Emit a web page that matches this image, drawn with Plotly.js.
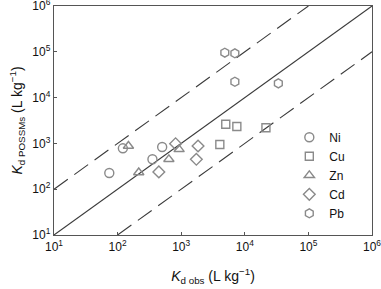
<!DOCTYPE html>
<html>
<head>
<meta charset="utf-8">
<script src="https://cdn.plot.ly/plotly-3.0.1.min.js"></script>
<style>html,body{margin:0;padding:0;background:#fff;}#chart{width:381px;height:289px;}</style>
</head>
<body>
<div id="chart"></div>
<script>
// Observed Kd (x) and POSSMs-predicted Kd (y), L/kg
const niObs = [74, 121, 353, 502];
const niPred = [226, 781, 450, 834];
const cuObs = [4050, 5020, 7500, 21500];
const cuPred = [946, 2610, 2340, 2200];
const znObs = [148, 215, 640, 927];
const znPred = [877, 232, 450, 743];
const cdObs = [445, 816, 1840, 1730];
const cdPred = [238, 984, 877, 450];
const pbObs = [4850, 6980, 6980, 33700];
const pbPred = [95500, 92700, 22200, 20500];

// reference lines: 1:1 and ±1 order of magnitude
const oneToOneX = [10, 1e6];
const oneToOneY = [10, 1e6];
const upperX = [10, 1e5];
const upperY = [100, 1e6];
const lowerX = [100, 1e6];
const lowerY = [10, 1e5];

const tickVals = [10, 100, 1000, 10000, 100000, 1000000];
const tickText = ['10<sup>1</sup>','10<sup>2</sup>','10<sup>3</sup>','10<sup>4</sup>','10<sup>5</sup>','10<sup>6</sup>'];

const seriesNames = ['Ni','Cu','Zn','Cd','Pb'];
const seriesX = [niObs, cuObs, znObs, cdObs, pbObs];
const seriesY = [niPred, cuPred, znPred, cdPred, pbPred];
const symbols = ['circle-open','square-open','triangle-up-open','diamond-open','hexagon-open'];
const sizes = [9, 8, 9, 9, 9];

const markerColor = '#8a8a8a';
const lineColor = '#3a3a3a';

const traces = [
  {x: oneToOneX, y: oneToOneY, mode: 'lines', line: {color: lineColor, width: 1.1}, showlegend: false, hoverinfo: 'skip'},
  {x: upperX, y: upperY, mode: 'lines', line: {color: lineColor, width: 1.1, dash: '17px,8px'}, showlegend: false, hoverinfo: 'skip'},
  {x: lowerX, y: lowerY, mode: 'lines', line: {color: lineColor, width: 1.1, dash: '17px,8px'}, showlegend: false, hoverinfo: 'skip'}
];
seriesNames.forEach((n, i) => {
  traces.push({
    x: seriesX[i], y: seriesY[i], name: n, mode: 'markers', type: 'scatter',
    marker: {symbol: symbols[i], size: sizes[i], color: markerColor, line: {color: markerColor, width: 1.4}}
  });
});

const eps = 1e-4;
const axisCommon = {
  type: 'log', range: [1 - eps, 6 + eps], tickvals: tickVals, ticktext: tickText,
  ticks: 'inside', ticklen: 3, tickcolor: '#555', tickwidth: 1,
  showline: true, linecolor: '#555', linewidth: 1.2, mirror: true,
  showgrid: false, zeroline: false, ticklabeloverflow: 'allow',
  tickfont: {family: 'Liberation Sans, Arial, sans-serif', size: 12, color: '#111'}
};

const layout = {
  width: 381, height: 289,
  margin: {l: 54, r: 9, t: 6, b: 54},
  paper_bgcolor: '#fff', plot_bgcolor: '#fff',
  font: {family: 'Liberation Sans, Arial, sans-serif', size: 12, color: '#111'},
  xaxis: Object.assign({}, axisCommon, {
    title: {text: '<i>K</i><sub>d obs</sub> (L kg<sup>−1</sup>)', font: {size: 14}, standoff: 18}
  }),
  yaxis: Object.assign({}, axisCommon, {
    title: {text: '<i>K</i><sub>d POSSMs</sub> (L kg<sup>−1</sup>)', font: {size: 14}, standoff: 6}
  }),
  legend: {
    x: 0.74, y: 0.49, xanchor: 'left', yanchor: 'top',
    bgcolor: 'rgba(0,0,0,0)', borderwidth: 0,
    font: {size: 12}, itemwidth: 30, tracegroupgap: 0
  },
  showlegend: true
};

Plotly.newPlot('chart', traces, layout, {staticPlot: true, displayModeBar: false});
</script>
</body>
</html>
